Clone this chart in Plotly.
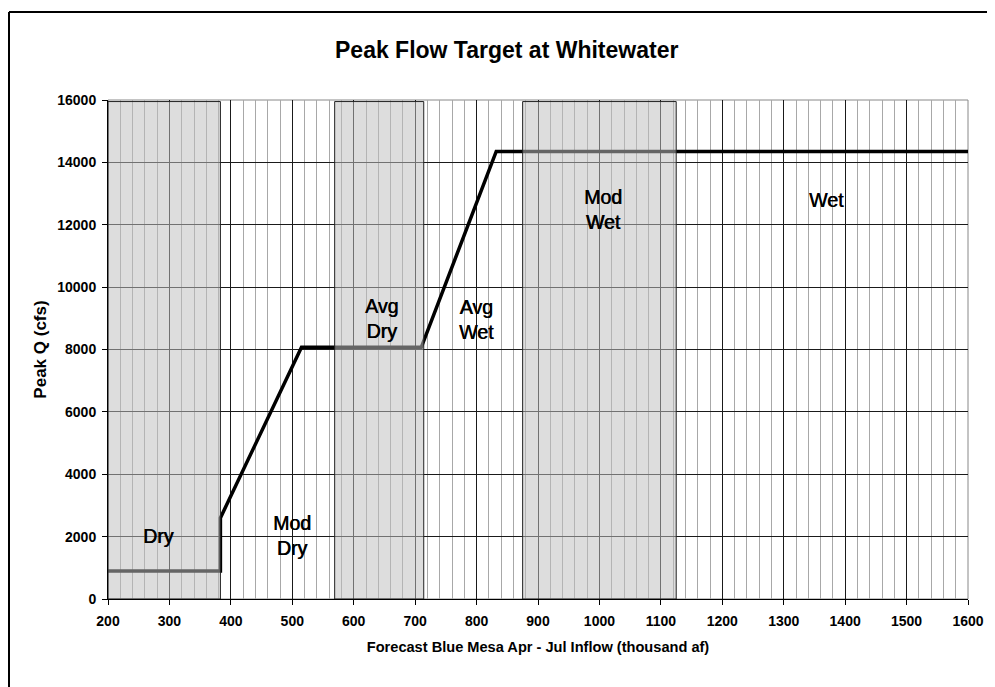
import plotly.graph_objects as go

# ---- data ----
flow_x = [200, 383, 383, 515, 710, 832, 1600]
flow_y = [900, 900, 2600, 8070, 8070, 14350, 14350]

band_start = [200, 569, 875]
band_end = [383, 714, 1125]
band_top = 15950

label_text = ["Dry", "Mod<br>Dry", "Avg<br>Dry", "Avg<br>Wet", "Mod<br>Wet", "Wet"]
label_x = [282, 500, 645, 800, 1005, 1370]
label_y = [2030, 2050, 8990, 8950, 12480, 12800]

x_ticks = list(range(200, 1601, 100))
y_ticks = list(range(0, 16001, 2000))

FONT = "Arial, Liberation Sans, sans-serif"
TICKFONT = dict(family=FONT, size=14, color="black")

# figure geometry (page has an 8px body margin)
W, H = 987, 679
ML, MR, MT, MB = 100, 27, 92, 88
PW, PH = W - ML - MR, H - MT - MB

fig = go.Figure()
fig.add_trace(go.Scatter(
    x=flow_x, y=flow_y, mode="lines",
    line=dict(color="black", width=3.5),
    hoverinfo="skip", showlegend=False,
))

shapes = []
for x0, x1 in zip(band_start, band_end):
    shapes.append(dict(
        type="rect", xref="x", yref="y", x0=x0, x1=x1, y0=0, y1=band_top,
        fillcolor="rgba(190,190,190,0.53)",
        line=dict(color="#222222", width=1), layer="above",
    ))
# plot-area border (top/right gray)
shapes.append(dict(type="rect", xref="paper", yref="paper", x0=0, x1=1, y0=0, y1=1,
                   line=dict(color="#888888", width=1), layer="below"))
# outer chart frame (left and top edges visible)
fx = (1 - ML) / PW
fy = (H - MB - 4) / PH
shapes.append(dict(type="line", xref="paper", yref="paper",
                   x0=fx, x1=(W + 30 - ML) / PW, y0=fy, y1=fy,
                   line=dict(color="black", width=2)))
shapes.append(dict(type="line", xref="paper", yref="paper",
                   x0=fx, x1=fx, y0=fy, y1=-(MB + 30) / PH,
                   line=dict(color="black", width=2)))

annotations = []
for t, x, y in zip(label_text, label_x, label_y):
    annotations.append(dict(
        x=x, y=y, xref="x", yref="y", text=t, showarrow=False,
        font=dict(family=FONT, size=19.5, color="black",
                  shadow="0.6px 0px 0px black"),
        xanchor="center", yanchor="middle",
    ))

fig.update_layout(
    width=W, height=H,
    margin=dict(l=ML, r=MR, t=MT, b=MB, autoexpand=False),
    paper_bgcolor="white", plot_bgcolor="white",
    title=dict(text="<b>Peak Flow Target at Whitewater</b>",
               x=498.7 / W, xref="container", xanchor="center",
               y=1 - 42 / H, yref="container", yanchor="middle",
               font=dict(family=FONT, size=23, color="black")),
    shapes=shapes,
    annotations=annotations,
    showlegend=False,
)

fig.update_xaxes(
    range=[200, 1600], tickmode="array", tickvals=x_ticks,
    ticktext=[f"<b>{v}</b>" for v in x_ticks],
    tickfont=TICKFONT, ticklabelstandoff=4, automargin=False,
    showgrid=True, gridcolor="#1a1a1a", gridwidth=1,
    minor=dict(dtick=20, showgrid=True, gridcolor="#a8a8a8", gridwidth=1, ticks=""),
    showline=True, linecolor="black", linewidth=1,
    ticks="outside", ticklen=5, tickcolor="black",
    zeroline=False,
    title=dict(text="<b>Forecast Blue Mesa Apr - Jul Inflow (thousand af)</b>",
               font=dict(family=FONT, size=14.6, color="black"),
               standoff=13),
)
fig.update_yaxes(
    range=[0, 16000], tickmode="array", tickvals=y_ticks,
    ticktext=[f"<b>{v}</b>" for v in y_ticks],
    tickfont=TICKFONT, ticklabelstandoff=3, automargin=False,
    showgrid=True, gridcolor="#1a1a1a", gridwidth=1,
    showline=True, linecolor="black", linewidth=1,
    ticks="outside", ticklen=5, tickcolor="black",
    zeroline=False,
    title=dict(text="<b>Peak Q (cfs)</b>",
               font=dict(family=FONT, size=17, color="black"),
               standoff=6),
)

fig.write_html("out.html")
